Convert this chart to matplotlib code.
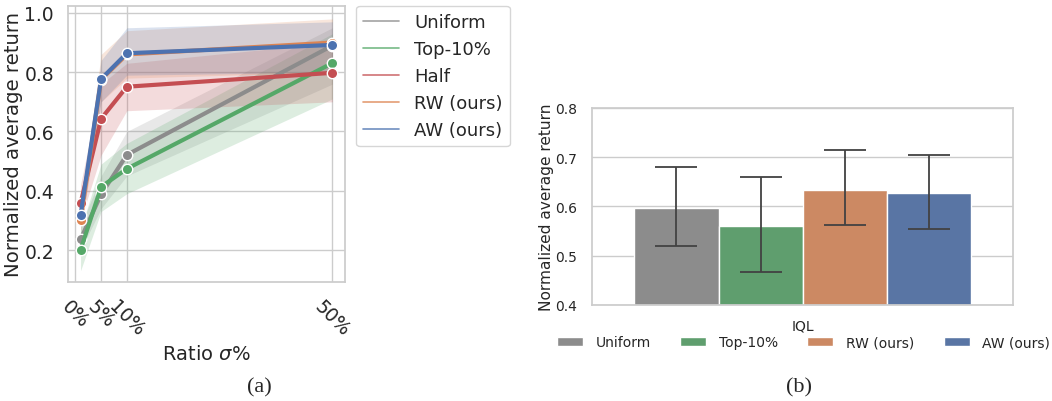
import matplotlib
matplotlib.use("Agg")
import matplotlib.pyplot as plt
import seaborn as sns
import numpy as np

sns.set_theme(style="whitegrid")
plt.rcParams['font.family'] = ['DejaVu Sans']

# (a) ratio sweep
ratios = [1, 5, 10, 50]
methods = ["Uniform", "Top-10%", "Half", "RW (ours)", "AW (ours)"]
mean_uniform = [0.236, 0.388, 0.521, 0.890]
mean_top10 = [0.200, 0.413, 0.474, 0.831]
mean_half = [0.358, 0.643, 0.751, 0.798]
mean_rw = [0.300, 0.775, 0.860, 0.900]
mean_aw = [0.317, 0.777, 0.864, 0.892]
lo_uniform = [0.20, 0.34, 0.45, 0.76]
hi_uniform = [0.28, 0.45, 0.60, 0.95]
lo_top10 = [0.13, 0.33, 0.39, 0.71]
hi_top10 = [0.27, 0.49, 0.56, 0.93]
lo_half = [0.30, 0.52, 0.67, 0.70]
hi_half = [0.42, 0.76, 0.83, 0.90]
lo_rw = [0.26, 0.70, 0.78, 0.80]
hi_rw = [0.34, 0.86, 0.94, 0.98]
lo_aw = [0.27, 0.70, 0.79, 0.80]
hi_aw = [0.36, 0.84, 0.95, 0.97]

# (b) IQL bars
bar_methods = ["Uniform", "Top-10%", "RW (ours)", "AW (ours)"]
bar_vals = [0.597, 0.561, 0.633, 0.627]
bar_lo = [0.520, 0.467, 0.563, 0.555]
bar_hi = [0.680, 0.659, 0.714, 0.704]

pal = sns.color_palette("deep")
line_colors = ["#8c8c8c", pal[2], pal[3], pal[1], pal[0]]
bar_colors = sns.color_palette(["#8c8c8c", pal[2], pal[1], pal[0]], desat=0.75)

fig = plt.figure(figsize=(10.52, 4.02), dpi=100)

ax1 = fig.add_axes([0.0646, 0.296, 0.2634, 0.687])
means = [mean_uniform, mean_top10, mean_half, mean_rw, mean_aw]
los = [lo_uniform, lo_top10, lo_half, lo_rw, lo_aw]
his = [hi_uniform, hi_top10, hi_half, hi_rw, hi_aw]
for name, c, m, lo, hi in zip(methods, line_colors, means, los, his):
    ax1.fill_between(ratios, lo, hi, color=c, alpha=0.2, lw=0)
    ax1.plot(ratios, m, color=c, lw=3, marker="o", ms=7.5,
             markeredgecolor="white", markeredgewidth=1, label=name)
ax1.set_xlim(-1.45, 52.45)
ax1.set_ylim(0.092, 1.024)
ax1.set_xticks([0, 5, 10, 50])
ax1.set_xticklabels(["0%", "5%", "10%", "50%"], rotation=-45, fontsize=13.5)
ax1.set_yticks([0.2, 0.4, 0.6, 0.8, 1.0])
ax1.set_yticklabels(["0.2", "0.4", "0.6", "0.8", "1.0"], fontsize=13.5)
ax1.set_xlabel(r"Ratio $\sigma$%", fontsize=14, labelpad=4)
ax1.set_ylabel("Normalized average return", fontsize=14.2, labelpad=1)
ax1.tick_params(axis="x", pad=4)
ax1.tick_params(axis="y", pad=4)
leg = ax1.legend(loc="upper left", bbox_to_anchor=(1.04, 1.0), fontsize=13,
                 handlelength=2.0, borderaxespad=0)
for h in leg.get_lines():
    h.set_linewidth(1.2)
    h.set_marker("")
    h.set_alpha(0.8)

ax2 = fig.add_axes([0.563, 0.239, 0.400, 0.490])
n = len(bar_methods)
w = 0.8 / n
xs = np.arange(n) * w - 0.4 + w / 2
for x, v, lo, hi, c, name in zip(xs, bar_vals, bar_lo, bar_hi, bar_colors, bar_methods):
    ax2.bar(x, v - 0.4, bottom=0.4, width=w, color=c, edgecolor="white",
            linewidth=1, label=name, zorder=2)
    ax2.errorbar(x, v, yerr=[[v - lo], [hi - v]], color="#424242", lw=1.3,
                 capsize=15, capthick=1.3, zorder=3)
ax2.set_xlim(-0.5, 0.5)
ax2.set_ylim(0.4, 0.8)
ax2.set_xticks([0])
ax2.set_xticklabels(["IQL"], fontsize=10)
ax2.set_yticks([0.4, 0.5, 0.6, 0.7, 0.8])
ax2.tick_params(axis="y", labelsize=10, pad=5)
ax2.tick_params(axis="x", pad=4)
ax2.set_ylabel("Normalized average return", fontsize=11.1, labelpad=0.5)
ax2.grid(axis="x", visible=False)
ax2.legend(loc="center", bbox_to_anchor=(0.502, -0.19), ncol=4, frameon=False,
           fontsize=10, handlelength=1.87, handletextpad=0.93, columnspacing=2.1,
           borderaxespad=0, borderpad=0)

fig.text(0.247, 0.034, "(a)", family="Liberation Serif", fontsize=16,
         ha="center", va="center")
fig.text(0.7595, 0.034, "(b)", family="Liberation Serif", fontsize=16,
         ha="center", va="center")

fig.savefig("out.png", dpi=100)
